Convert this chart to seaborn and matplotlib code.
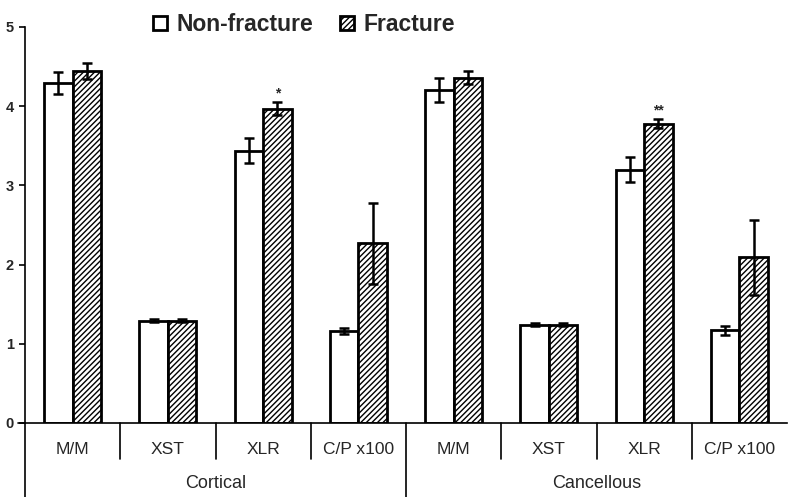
import pandas as pd
import matplotlib
matplotlib.use("Agg")
import matplotlib.pyplot as plt
import seaborn as sns

# --- Data ---
groups = ["Cortical", "Cancellous"]
measures = ["M/M", "XST", "XLR", "C/P x100"]
status = ["Non-fracture", "Fracture"]

cortical_nf = [4.29, 1.29, 3.44, 1.16]
cortical_nf_err = [0.14, 0.02, 0.16, 0.04]
cortical_f = [4.44, 1.29, 3.97, 2.27]
cortical_f_err = [0.10, 0.02, 0.08, 0.51]

cancellous_nf = [4.20, 1.24, 3.20, 1.17]
cancellous_nf_err = [0.15, 0.02, 0.16, 0.06]
cancellous_f = [4.36, 1.24, 3.78, 2.09]
cancellous_f_err = [0.08, 0.02, 0.06, 0.47]

# significance marks on fracture bars (index over the 8 positions)
sig_marks = {2: "*", 6: "**"}

# --- Build long table ---
rows = []
nf_vals = cortical_nf + cancellous_nf
nf_errs = cortical_nf_err + cancellous_nf_err
f_vals = cortical_f + cancellous_f
f_errs = cortical_f_err + cancellous_f_err
for i in range(8):
    rows.append({"pos": i, "status": status[0], "value": nf_vals[i], "err": nf_errs[i]})
    rows.append({"pos": i, "status": status[1], "value": f_vals[i], "err": f_errs[i]})
df = pd.DataFrame(rows)

sns.set_theme(style="white")
plt.rcParams["font.family"] = ["Liberation Sans", "DejaVu Sans"]
plt.rcParams["hatch.linewidth"] = 1.0

fig = plt.figure(figsize=(7.88, 4.97), dpi=100)
ax = fig.add_axes([25 / 788, 1 - 423 / 497, 762 / 788, 396 / 497])

sns.barplot(
    data=df, x="pos", y="value", hue="status", hue_order=status,
    palette={"Non-fracture": "white", "Fracture": "white"},
    width=0.6, edgecolor="black", linewidth=2, errorbar=None,
    legend=False, ax=ax,
)

# hatch fracture bars and add error bars
bar_sets = list(ax.containers[:2])
for bar in bar_sets[1]:
    bar.set_hatch("//////")
for k, cont in enumerate(bar_sets):
    vals = nf_vals if k == 0 else f_vals
    errs = nf_errs if k == 0 else f_errs
    for i, bar in enumerate(cont):
        xc = bar.get_x() + bar.get_width() / 2
        ax.errorbar(xc, vals[i], yerr=errs[i], color="black", lw=1.8,
                    capsize=3.5, capthick=1.8, zorder=5)

for i, mark in sig_marks.items():
    bar = bar_sets[1][i]
    xc = bar.get_x() + bar.get_width() / 2
    ax.text(xc, f_vals[i] + f_errs[i] + 0.02, mark, ha="center", va="bottom",
            fontsize=10, fontweight="bold")

ax.set_xlim(-0.5, 7.5)
ax.set_ylim(0, 5)
ax.set_yticks([0, 1, 2, 3, 4, 5])
ax.set_yticklabels(["0", "1", "2", "3", "4", "5"], fontsize=10.5, fontweight="bold")
ax.tick_params(axis="y", left=True, length=4, width=1.2, pad=4, color="black")
ax.set_xticks([])
ax.set_xlabel("")
ax.set_ylabel("")
for s in ["top", "right"]:
    ax.spines[s].set_visible(False)
ax.spines["left"].set_linewidth(1.2)
ax.spines["bottom"].set_linewidth(1.2)
ax.spines["left"].set_color("black")
ax.spines["bottom"].set_color("black")

# category labels and separators below the axis
trans = ax.get_xaxis_transform()
bottom = -74 / 396
ax.plot([0, 0], [0, bottom], transform=ax.transAxes, color="black", lw=1.2, clip_on=False)
ax.plot([-7 / 762, 0], [0, 0], transform=ax.transAxes, color="black", lw=1.2, clip_on=False)
for i in range(8):
    ax.text(i, -26 / 396, measures[i % 4], transform=trans, ha="center", va="center",
            fontsize=12.5)
for b in range(1, 8):
    low = bottom if b == 4 else -36 / 396
    ax.plot([b - 0.5, b - 0.5], [0, low], transform=trans, color="black", lw=1.2, clip_on=False)
for g, name in enumerate(groups):
    ax.text(1.5 + 4 * g, -60 / 396, name, transform=trans, ha="center", va="center",
            fontsize=13)

# legend
handles = [bar_sets[0][0], bar_sets[1][0]]
fig.legend(handles, status, loc="upper center", bbox_to_anchor=(304 / 788, 1.015),
           ncol=2, frameon=False, prop={"weight": "bold", "size": 16.5},
           handlelength=0.6, handleheight=0.6, handletextpad=0.4, columnspacing=1.2)

fig.savefig("out.png", dpi=100)
